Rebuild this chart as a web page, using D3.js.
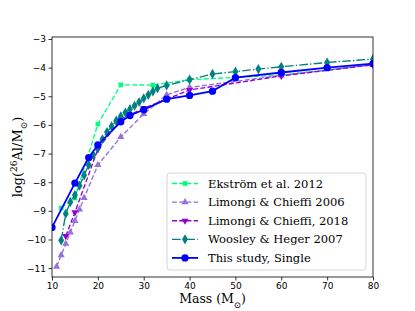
<!DOCTYPE html>
<html>
<head>
<meta charset="utf-8">
<script src="https://cdn.jsdelivr.net/npm/d3@7"></script>
<style>
  body { margin: 0; background: #fff; }
  svg { display: block; }
  .tick text { font-family: "DejaVu Sans", sans-serif; font-size: 9px; fill: #000; }
  .tick line { stroke: #000; stroke-width: 0.8; }
</style>
</head>
<body>
<svg id="chart" width="415" height="311"></svg>
<script>
// masses (M_sun) and log(26Al/M_sun) per model set
var ekstromMass = [12, 15, 20, 25, 32, 40, 60, 85]
var ekstromVal = [-8.9, -8.55, -5.97, -4.6, -4.61, -4.42, -4.26, -3.8]

var lc06Mass = [11, 12, 13, 14, 15, 16, 17, 20, 25, 30, 35, 40, 60, 80]
var lc06Val = [-10.95, -10.55, -10.15, -9.75, -9.35, -8.95, -8.55, -7.4, -6.42, -5.62, -4.95, -4.69, -4.27, -3.9]

var lc18Mass = [13, 15, 20, 25, 30, 40, 60, 80]
var lc18Val = [-9.88, -9.05, -6.85, -5.8, -5.42, -4.78, -4.29, -3.9]

var whMass = [12, 13, 14, 15, 16, 17, 18, 19, 20, 21, 22, 23, 24, 25, 26, 27, 28, 29, 30, 31, 32, 33, 35, 40, 45, 50, 55, 60, 70, 80]
var whVal = [-10.03, -9.1, -8.69, -8.45, -8.12, -7.76, -7.4, -7.05, -6.8, -6.5, -6.25, -6.05, -5.85, -5.7, -5.57, -5.45, -5.33, -5.2, -5.07, -4.95, -4.83, -4.72, -4.62, -4.42, -4.22, -4.14, -4.05, -3.97, -3.82, -3.7]

var studyMass = [10, 15, 18, 20, 25, 27, 30, 35, 40, 45, 50, 60, 70, 80]
var studyVal = [-9.58, -8.03, -7.14, -6.7, -5.89, -5.67, -5.47, -5.1, -4.97, -4.82, -4.35, -4.17, -4.0, -3.86]

var xTicks = [10, 20, 30, 40, 50, 60, 70, 80]
var yTicks = [-11, -10, -9, -8, -7, -6, -5, -4, -3]

var serif = '"DejaVu Serif", serif'
var margin = { top: 37, right: 42, bottom: 34, left: 52 }
var svg = d3.select('#chart')
var width = 415 - margin.left - margin.right
var height = 311 - margin.top - margin.bottom

var x = d3.scaleLinear().domain([10, 80]).range([0, width])
var y = d3.scaleLinear().domain([-11.31, -2.93]).range([height, 0])

function zip(ms, vs) {
  return ms.map(function (m, i) { return { x: m, y: vs[i] } })
}

var series = [
  { name: 'Ekstr\u00f6m et al. 2012', color: '#00ff7f', dash: '5,2.2', symbol: d3.symbolSquare, size: 22, width: 1.35, data: zip(ekstromMass, ekstromVal) },
  { name: 'Limongi & Chieffi 2006', color: '#9370db', dash: '5,2.2', symbol: d3.symbolTriangle, size: 22, width: 1.35, data: zip(lc06Mass, lc06Val), rot: 0 },
  { name: 'Limongi & Chieffi, 2018', color: '#9400d3', dash: '5,2.2', symbol: d3.symbolTriangle, size: 22, width: 1.35, data: zip(lc18Mass, lc18Val), rot: 180 },
  { name: 'Woosley & Heger 2007', color: '#008080', dash: '8.6,2.2,1.35,2.2', symbol: d3.symbolDiamond, size: 30, width: 1.35, data: zip(whMass, whVal) },
  { name: 'This study, Single', color: '#0000ff', dash: null, symbol: d3.symbolCircle, size: 42, width: 1.8, data: zip(studyMass, studyVal) }
]

var g = svg.append('g').attr('transform', 'translate(' + margin.left + ',' + margin.top + ')')

g.append('clipPath').attr('id', 'plot-clip')
  .append('rect').attr('width', width).attr('height', height)

// axes
g.append('g')
  .attr('transform', 'translate(0,' + height + ')')
  .call(d3.axisBottom(x).tickValues(xTicks).tickSize(3.5).tickPadding(2.5))
  .call(function (a) { a.select('.domain').remove() })

g.append('g')
  .call(d3.axisLeft(y).tickValues(yTicks).tickSize(3.5).tickPadding(2.5)
    .tickFormat(function (d) { return '\u2212' + Math.abs(d) }))
  .call(function (a) { a.select('.domain').remove() })

var line = d3.line()
  .x(function (d) { return x(d.x) })
  .y(function (d) { return y(d.y) })

var plot = g.append('g').attr('clip-path', 'url(#plot-clip)')

series.forEach(function (s) {
  plot.append('path')
    .datum(s.data)
    .attr('fill', 'none')
    .attr('stroke', s.color)
    .attr('stroke-width', s.width)
    .attr('stroke-dasharray', s.dash)
    .attr('d', line)

  plot.selectAll(null)
    .data(s.data).enter()
    .append('path')
    .attr('d', d3.symbol().type(s.symbol).size(s.size))
    .attr('fill', s.color)
    .attr('transform', function (d) {
      return 'translate(' + x(d.x) + ',' + y(d.y) + ')' + (s.rot ? ' rotate(' + s.rot + ')' : '')
    })
})

// frame
g.append('rect')
  .attr('width', width).attr('height', height)
  .attr('fill', 'none').attr('stroke', '#000').attr('stroke-width', 0.8)

// legend
var legend = g.append('g').attr('transform', 'translate(' + (167 - margin.left) + ',' + (173 - margin.top) + ')')
legend.append('rect')
  .attr('width', 199).attr('height', 97).attr('rx', 3)
  .attr('fill', '#fff').attr('fill-opacity', 0.8)
  .attr('stroke', '#ccc').attr('stroke-width', 0.8)

var rows = legend.selectAll('.chart__legend-row')
  .data(series).enter()
  .append('g')
  .attr('class', 'chart__legend-row')
  .attr('transform', function (d, i) { return 'translate(0,' + (10.5 + i * 18.6) + ')' })

rows.append('line')
  .attr('x1', 5).attr('x2', 31).attr('y1', 0).attr('y2', 0)
  .attr('stroke', function (d) { return d.color })
  .attr('stroke-width', function (d) { return d.width })
  .attr('stroke-dasharray', function (d) { return d.dash })

rows.append('path')
  .attr('d', function (d) { return d3.symbol().type(d.symbol).size(d.size)() })
  .attr('fill', function (d) { return d.color })
  .attr('transform', function (d) { return 'translate(18,0)' + (d.rot ? ' rotate(' + d.rot + ')' : '') })

rows.append('text')
  .attr('x', 41).attr('dy', '0.35em')
  .attr('font-family', serif).attr('font-size', '11.5px').attr('fill', '#000')
  .text(function (d) { return d.name })

// axis labels
svg.append('text')
  .attr('font-family', serif).attr('font-size', '12.5px')
  .attr('text-anchor', 'middle')
  .attr('x', margin.left + width / 2).attr('y', 303)
  .html('Mass (M<tspan baseline-shift="sub" font-size="8.5px">\u2299</tspan>)')

svg.append('text')
  .attr('font-family', serif).attr('font-size', '13px')
  .attr('text-anchor', 'middle')
  .attr('transform', 'translate(22,' + (margin.top + height / 2) + ') rotate(-90)')
  .html('log(<tspan baseline-shift="super" font-size="9px">26</tspan>Al/M<tspan baseline-shift="sub" font-size="9px">\u2299</tspan>)')
</script>
</body>
</html>
